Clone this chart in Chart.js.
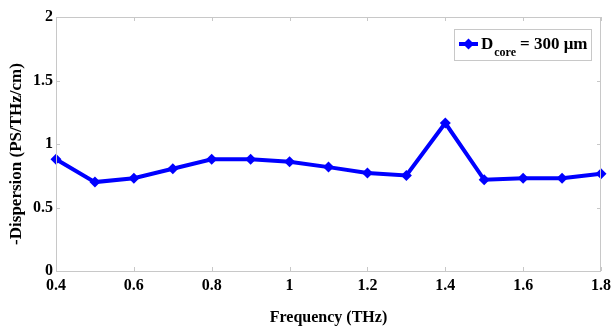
<!DOCTYPE html>
<html>
<head>
<meta charset="utf-8">
<script src="https://cdn.jsdelivr.net/npm/chart.js@4/dist/chart.umd.min.js"></script>
<style>
  html, body { margin: 0; padding: 0; background: #fff; }
</style>
</head>
<body>
<canvas id="c" width="616" height="327"></canvas>
<script>
// data
const frequency = [0.4, 0.5, 0.6, 0.7, 0.8, 0.9, 1.0, 1.1, 1.2, 1.3, 1.4, 1.5, 1.6, 1.7, 1.8];
const dispersion = [0.88, 0.70, 0.73, 0.805, 0.88, 0.88, 0.86, 0.818, 0.772, 0.752, 1.165, 0.718, 0.731, 0.731, 0.765];
const xTicks = [0.4, 0.6, 0.8, 1.0, 1.2, 1.4, 1.6, 1.8];
const yTicks = [0, 0.5, 1, 1.5, 2];
const yTitle = "-Dispersion (PS/THz/cm)";

const serif = "'Liberation Serif', 'Times New Roman', serif";
const blue = "#0000ff";
const boxColor = "#c8c8c8";

// box round the plot, with small ticks pointing inward on all four sides
const boxTicks = {
  id: "boxTicks",
  afterDraw(chart) {
    const { ctx, chartArea: a, scales } = chart;
    ctx.save();
    ctx.strokeStyle = boxColor;
    ctx.lineWidth = 1;
    ctx.strokeRect(a.left + 0.5, a.top + 0.5, a.right - a.left - 1, a.bottom - a.top);
    ctx.beginPath();
    xTicks.forEach(v => {
      const x = Math.round(scales.x.getPixelForValue(v)) + 0.5;
      ctx.moveTo(x, a.bottom); ctx.lineTo(x, a.bottom - 4);
      ctx.moveTo(x, a.top); ctx.lineTo(x, a.top + 4);
    });
    yTicks.forEach(v => {
      const y = Math.round(scales.y.getPixelForValue(v)) + 0.5;
      ctx.moveTo(a.left, y); ctx.lineTo(a.left + 4, y);
      ctx.moveTo(a.right, y); ctx.lineTo(a.right - 4, y);
    });
    ctx.stroke();

    // y title sits a bit below the middle in the original
    ctx.translate(17, 154);
    ctx.rotate(-Math.PI / 2);
    ctx.fillStyle = "#000";
    ctx.font = "bold 17px " + serif;
    ctx.textAlign = "center";
    ctx.textBaseline = "middle";
    ctx.fillText(yTitle, 0, 0);
    ctx.restore();
  }
};

// legend with subscript: D_core = 300 µm
const subLegend = {
  id: "subLegend",
  afterDraw(chart) {
    const ctx = chart.ctx;
    const bx = 454, by = 29, bw = 137, bh = 31;
    ctx.save();
    ctx.fillStyle = "#fff";
    ctx.fillRect(bx, by, bw, bh);
    ctx.strokeStyle = boxColor;
    ctx.lineWidth = 1;
    ctx.strokeRect(bx + 0.5, by + 0.5, bw, bh);

    const ly = 44;
    ctx.strokeStyle = blue;
    ctx.lineWidth = 4;
    ctx.beginPath();
    ctx.moveTo(459, ly); ctx.lineTo(478, ly);
    ctx.stroke();
    ctx.fillStyle = blue;
    ctx.beginPath();
    ctx.moveTo(468.5, ly - 5.5); ctx.lineTo(474, ly); ctx.lineTo(468.5, ly + 5.5); ctx.lineTo(463, ly);
    ctx.closePath();
    ctx.fill();

    ctx.fillStyle = "#000";
    ctx.textBaseline = "alphabetic";
    ctx.font = "bold 17px " + serif;
    ctx.fillText("D", 481, 49);
    let x = 481 + ctx.measureText("D").width + 1;
    ctx.font = "bold 12px " + serif;
    ctx.fillText("core", x, 56);
    x += ctx.measureText("core").width + 4;
    ctx.font = "bold 17px " + serif;
    ctx.fillText("= 300 \u03bcm", x, 49);
    ctx.restore();
  }
};

new Chart(document.getElementById("c"), {
  type: "line",
  data: {
    datasets: [{
      label: "Dcore = 300 \u03bcm",
      data: frequency.map((f, i) => ({ x: f, y: dispersion[i] })),
      borderColor: blue,
      backgroundColor: blue,
      borderWidth: 4,
      pointStyle: "rectRot",
      pointRadius: 5.5,
      pointBorderWidth: 0,
      tension: 0,
      clip: false
    }]
  },
  options: {
    responsive: false,
    animation: false,
    layout: { padding: { top: 17, right: 10, left: 0, bottom: 0 } },
    plugins: { legend: { display: false }, tooltip: { enabled: false } },
    scales: {
      x: {
        type: "linear",
        min: 0.4,
        max: 1.8,
        afterBuildTicks: s => { s.ticks = xTicks.map(v => ({ value: v })); },
        afterFit: s => { s.height = 56; },
        grid: { display: false, drawTicks: false },
        border: { display: false },
        ticks: {
          padding: 5,
          color: "#000",
          font: { family: serif, size: 16, weight: "bold" },
          callback: v => String(+v.toFixed(1))
        },
        title: {
          display: true,
          text: "Frequency (THz)",
          color: "#000",
          font: { family: serif, size: 16, weight: "bold" },
          padding: { top: 0, bottom: 0 }
        }
      },
      y: {
        min: 0,
        max: 2,
        afterBuildTicks: s => { s.ticks = yTicks.map(v => ({ value: v })); },
        afterFit: s => { s.width = 56; },
        grid: { display: false, drawTicks: false },
        border: { display: false },
        ticks: {
          padding: 3,
          color: "#000",
          font: { family: serif, size: 16, weight: "bold" },
          callback: v => String(v)
        }
      }
    }
  },
  plugins: [boxTicks, subLegend]
});
</script>
</body>
</html>
